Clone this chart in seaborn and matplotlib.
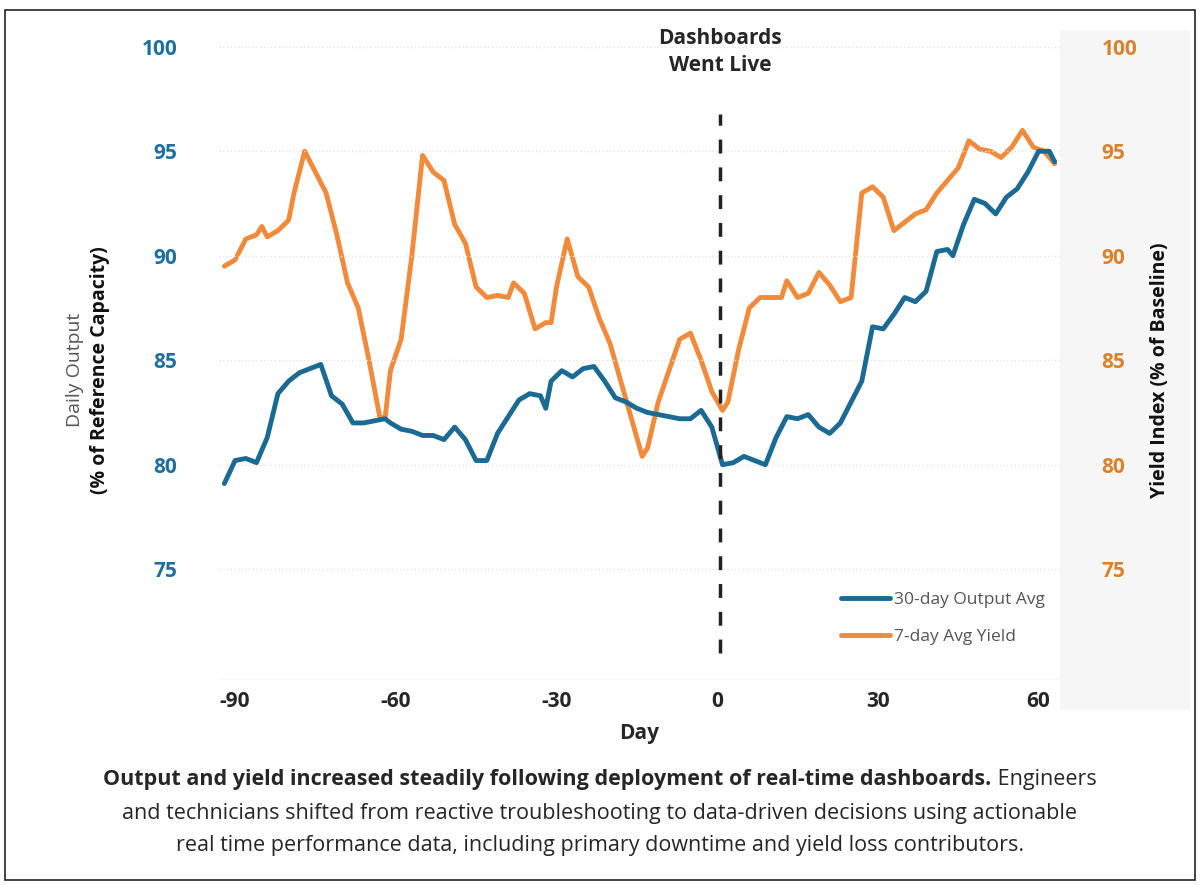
import numpy as np
import pandas as pd
import matplotlib
matplotlib.use("Agg")
import matplotlib.pyplot as plt
import seaborn as sns
from matplotlib.patches import Rectangle
from matplotlib.lines import Line2D

# 7日平均歩留まり
yield_days = [-92, -90, -88, -86, -85, -84, -82, -80, -79, -77, -75, -73, -71, -69, -67, -65, -63, -62,
              -61, -59, -57, -55, -53, -51, -49, -47, -45, -43, -41, -39, -38, -36, -34, -32, -31, -30,
              -28, -26, -24, -22, -20, -18, -16, -14, -13, -11, -9, -7, -5, -3, -1, 1, 2, 4, 6, 8, 10,
              12, 13, 15, 17, 19, 21, 23, 25, 27, 29, 31, 33, 35, 37, 39, 41, 43, 45, 47, 49, 51, 53,
              55, 57, 59, 61, 63]
yield_vals = [89.5, 89.8, 90.8, 91.0, 91.4, 90.9, 91.2, 91.7, 93.0, 95.0, 94.0, 93.0, 91.0, 88.7, 87.5,
              85.0, 82.3, 82.2, 84.5, 86.0, 90.0, 94.8, 94.0, 93.6, 91.5, 90.6, 88.5, 88.0, 88.1, 88.0,
              88.7, 88.2, 86.5, 86.8, 86.8, 88.5, 90.8, 89.0, 88.5, 87.0, 85.8, 84.0, 82.2, 80.4, 80.8,
              83.0, 84.5, 86.0, 86.3, 85.0, 83.5, 82.6, 83.0, 85.5, 87.5, 88.0, 88.0, 88.0, 88.8, 88.0,
              88.2, 89.2, 88.6, 87.8, 88.0, 93.0, 93.3, 92.8, 91.2, 91.6, 92.0, 92.2, 93.0, 93.6, 94.2,
              95.5, 95.1, 95.0, 94.7, 95.2, 96.0, 95.2, 95.0, 94.4]

# 30日平均出力
output_days = [-92, -90, -88, -86, -84, -82, -80, -78, -76, -74, -72, -70, -68, -66, -64, -62, -61, -59,
               -57, -55, -53, -51, -49, -47, -45, -43, -41, -39, -37, -35, -33, -32, -31, -29, -27, -25,
               -23, -21, -19, -17, -15, -13, -11, -9, -7, -5, -3, -1, 1, 3, 5, 7, 9, 11, 13, 15, 17, 19,
               21, 23, 25, 27, 29, 31, 33, 35, 37, 39, 41, 43, 44, 46, 48, 50, 52, 54, 56, 58, 60, 62, 63]
output_vals = [79.1, 80.2, 80.3, 80.1, 81.3, 83.4, 84.0, 84.4, 84.6, 84.8, 83.3, 82.9, 82.0, 82.0, 82.1,
               82.2, 82.0, 81.7, 81.6, 81.4, 81.4, 81.2, 81.8, 81.2, 80.2, 80.2, 81.5, 82.3, 83.1, 83.4,
               83.3, 82.7, 84.0, 84.5, 84.2, 84.6, 84.7, 84.0, 83.2, 83.0, 82.7, 82.5, 82.4, 82.3, 82.2,
               82.2, 82.6, 81.8, 80.0, 80.1, 80.4, 80.2, 80.0, 81.3, 82.3, 82.2, 82.4, 81.8, 81.5, 82.0,
               83.0, 84.0, 86.6, 86.5, 87.2, 88.0, 87.8, 88.3, 90.2, 90.3, 90.0, 91.5, 92.7, 92.5, 92.0,
               92.8, 93.2, 94.0, 95.0, 95.0, 94.5]

x_ticks = [-90, -60, -30, 0, 30, 60]
y_ticks = [75, 80, 85, 90, 95, 100]

BLUE = "#1b6a93"
ORANGE = "#f28a3c"

sns.set_theme(style="white")
plt.rcParams['font.family'] = ['Open Sans', 'DejaVu Sans']
plt.rcParams['axes.unicode_minus'] = False

df_out = pd.DataFrame({"day": output_days, "val": output_vals})
df_yld = pd.DataFrame({"day": yield_days, "val": yield_vals})

fig = plt.figure(figsize=(12, 8.85), dpi=100)
# 右軸の背景パネル
panel = Rectangle((1060 / 1200, 1 - 710 / 885), 130 / 1200, 680 / 885,
                  transform=fig.transFigure, facecolor="#f6f6f6", edgecolor="none", zorder=-5)
fig.patches.append(panel)
ax = fig.add_axes([219 / 1200, 1 - 680 / 885, 841 / 1200, 650 / 885])
ax.set_facecolor("none")
ax2 = ax.twinx()
ax2.patch.set_visible(False)

sns.lineplot(data=df_out, x="day", y="val", ax=ax, color=BLUE, linewidth=3.5, legend=False)
sns.lineplot(data=df_yld, x="day", y="val", ax=ax2, color=ORANGE, linewidth=3.5, legend=False)
ax.set_zorder(ax2.get_zorder() + 1)
ax.patch.set_visible(False)

for a in (ax, ax2):
    a.set_xlim(-93, 64)
    a.set_ylim(69.7, 100.8)
    a.set_yticks(y_ticks)
    for s in a.spines.values():
        s.set_visible(False)
    a.set_ylabel("")
ax.grid(axis="y", color="#e4e4e4", linestyle=":", linewidth=1)
ax.axhline(69.7, color="#dddddd", linewidth=1)
ax.set_xticks(x_ticks)
ax.tick_params(axis="x", labelsize=15, length=0, pad=8)
for t in ax.get_xticklabels():
    t.set_fontweight("bold")
ax.tick_params(axis="y", labelsize=15, length=0, labelcolor="#1f6ea0", pad=30)
for t in ax.get_yticklabels():
    t.set_fontweight("bold")
ax2.tick_params(axis="y", labelsize=15, length=0, labelcolor="#d9822b", pad=30, labelright=True)
for t in ax2.get_yticklabels():
    t.set_fontweight("bold")

ax.set_xlabel("Day", fontsize=15, fontweight="bold", labelpad=8)

ax.vlines(0.5, 71.0, 96.8, color="#222222", linestyles=[(0, (4, 4))], linewidth=2.5)
ax.text(0.5, 100.9, "Dashboards\nWent Live", ha="center", va="top", fontsize=15, fontweight="bold",
        linespacing=1.4)

fig.text(75 / 1200, 1 - 370 / 885, "Daily Output", rotation=90, ha="center", va="center",
         fontsize=14, color="#555555")
fig.text(100 / 1200, 1 - 370 / 885, "(% of Reference Capacity)", rotation=90, ha="center", va="center",
         fontsize=14, fontweight="bold", color="#111111")
fig.text(1160 / 1200, 1 - 370 / 885, "Yield Index (% of Baseline)", rotation=90, ha="center", va="center",
         fontsize=14, fontweight="bold", color="#111111")

handles = [Line2D([], [], color=BLUE, linewidth=3.5), Line2D([], [], color=ORANGE, linewidth=3.5)]
ax.legend(handles, ["30-day Output Avg", "7-day Avg Yield"], loc="lower right", frameon=False,
          fontsize=12.5, labelcolor="#555555", handlelength=2.8, handletextpad=0.2,
          labelspacing=1.2, bbox_to_anchor=(1.0, 0.03))

# 枠線とキャプション
fig.patches.append(Rectangle((5 / 1200, 5 / 885), 1190 / 1200, 870 / 885, transform=fig.transFigure,
                             fill=False, edgecolor="#222222", linewidth=1.2))

bold_part = "Output and yield increased steadily following deployment of real-time dashboards."
rest_part = " Engineers"
fig.canvas.draw()
r = fig.canvas.get_renderer()
tb = fig.text(0, 0, bold_part, fontsize=15.5, fontweight="bold")
tn = fig.text(0, 0, rest_part, fontsize=15.5)
wb = tb.get_window_extent(r).width
wn = tn.get_window_extent(r).width
x0 = (1200 - wb - wn) / 2
y1 = 1 - 780 / 885
tb.set_position((x0 / 1200, y1))
tn.set_position(((x0 + wb) / 1200, y1))
tb.set_va("center"); tn.set_va("center")
fig.text(0.5, 1 - 813 / 885, "and technicians shifted from reactive troubleshooting to data-driven decisions using actionable",
         ha="center", va="center", fontsize=15.5)
fig.text(0.5, 1 - 846 / 885, "real time performance data, including primary downtime and yield loss contributors.",
         ha="center", va="center", fontsize=15.5)

fig.savefig("out.png", dpi=100)
